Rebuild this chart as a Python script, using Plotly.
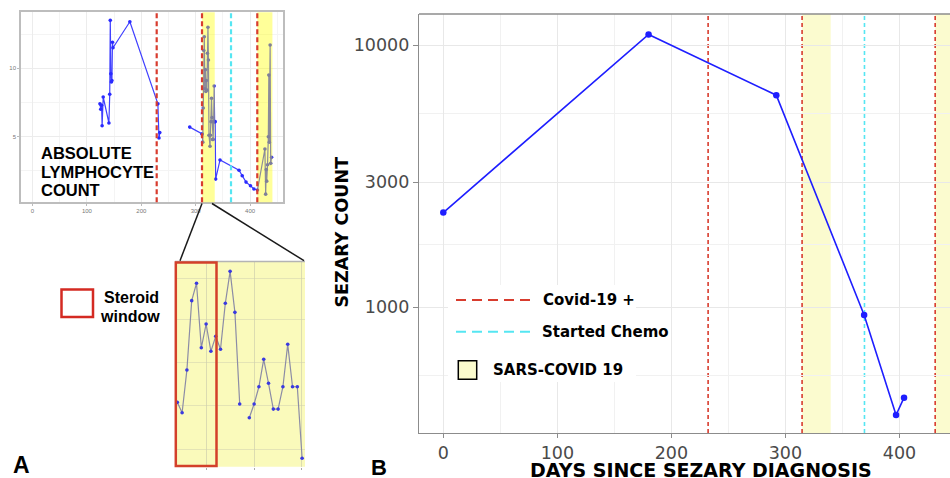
import plotly.graph_objects as go

W, H = 950, 478

# ---------------- Panel A: absolute lymphocyte count ----------------
alc_days_early = [124, 125.5, 127, 128, 130, 140.5, 142, 143, 144, 145, 146, 147, 148, 179, 230.5, 232.5, 234]
alc_vals_early = [7.4, 7.0, 7.3, 5.8, 7.9, 6.0, 8.1, 13.5, 9.6, 9.0, 9.1, 11.9, 11.5, 13.4, 7.4, 4.9, 5.3]

alc_days_late = [289, 311.6,
                 312.0, 313.0, 313.9, 314.9, 315.8, 316.8, 317.7, 318.7, 319.6, 320.6, 321.5, 322.5, 323.4, 324.4,
                 326.3, 327.2, 328.2, 329.1, 330.1, 331.0, 332.0, 332.9, 333.9, 334.8, 335.8, 336.7,
                 344.7, 379.6, 385.5, 392.5, 400.7, 407, 413.5,
                 427.2, 428.6, 429.6, 430.5, 432, 433.5, 434.4, 435.3, 436.8, 437.8, 439.5]
alc_vals_late = [5.7, 5.2,
                 5.2, 4.6, 7.1, 11.3, 12.3, 8.5, 9.9, 8.3, 9.1, 8.4, 11.1, 13.0, 10.6, 5.1,
                 4.3, 5.1, 6.1, 7.8, 6.4, 4.8, 4.8, 6.1, 8.7, 6.1, 6.1, 1.9,
                 3.3, 2.55, 2.15, 1.68, 1.41, 1.18, 1.1,
                 4.1, 0.8, 2.6, 1.75, 2.95, 5.0, 9.5, 4.6, 11.7, 3.05, 3.5]

covid_pos_days_a = [228.3, 311.6, 413.2]
chemo_day_a = 364.9
sars_windows_a = [(311.8, 335.0), (413.2, 441.0)]
a_xticks = [0, 100, 200, 300, 400]
a_yticks = [5, 10]

# ---------------- Zoomed inset (steroid window) ----------------
inset_idx = [0, 1, 2, 3, 4, 5, 6, 7, 8, 9, 10, 11, 12, 13, 14,
             15, 16, 17, 18, 19, 20, 21, 22, 23, 24, 25, 26]
inset_vals = [3.14, 2.63, 4.72, 8.10, 8.95, 5.80, 6.96, 5.63, 6.36, 5.73, 7.97, 9.53, 7.53, 3.06, None,
              2.39, 3.06, 3.90, 5.24, 4.07, 2.81, 2.81, 3.90, 5.97, 3.90, 3.90, 0.41]

# ---------------- Panel B: Sezary count ----------------
sezary_days = [0, 180, 292, 369, 397, 404]
sezary_counts = [2300, 11000, 6450, 935, 388, 452]
covid_pos_days_b = [232.2, 314.6, 431.3]
chemo_day_b = 369.3
sars_windows_b = [(314.6, 339.7), (431.3, 470.0)]
b_xticks = [0, 100, 200, 300, 400]
b_yticks = [1000, 3000, 10000]
b_yticklabels = ["1000", "3000", "10000"]


def px(x):
    return x / W


def py(y):
    return 1 - y / H


RED = "#d83c2e"
CYAN = "#55e6f2"
DJ = "DejaVu Sans"
AR = "Liberation Sans, Arial"

fig = go.Figure()

# Panel B trace
fig.add_trace(go.Scatter(x=sezary_days, y=sezary_counts, mode="lines+markers",
                         line=dict(color="#1e1eff", width=1.6),
                         marker=dict(size=6.5, color="#1e1eff"),
                         xaxis="x", yaxis="y", hoverinfo="skip"))

# Panel A traces
for dd, vv in [(alc_days_early, alc_vals_early), (alc_days_late, alc_vals_late)]:
    fig.add_trace(go.Scatter(x=dd, y=vv, mode="lines+markers",
                             line=dict(color="#4040ff", width=1.2),
                             marker=dict(size=3.6, color="#2a2aff"),
                             xaxis="x2", yaxis="y2", hoverinfo="skip"))

# Inset trace
fig.add_trace(go.Scatter(x=inset_idx, y=inset_vals, mode="lines+markers",
                         line=dict(color="#8c8ca6", width=1.2),
                         marker=dict(size=3.6, color="#3a3ae0"),
                         connectgaps=False,
                         xaxis="x3", yaxis="y3", hoverinfo="skip"))

shapes = []

# ----- Panel B shapes -----
for x0, x1 in sars_windows_b:
    shapes.append(dict(type="rect", xref="x", yref="y domain", x0=x0, x1=x1, y0=0, y1=1,
                       fillcolor="#fbfbcf", line=dict(width=0), layer="below"))
for d in covid_pos_days_b:
    shapes.append(dict(type="line", xref="x", yref="y domain", x0=d, x1=d, y0=0, y1=1,
                       line=dict(color=RED, width=1.6, dash="4px,3px"), layer="below"))
shapes.append(dict(type="line", xref="x", yref="y domain", x0=chemo_day_b, x1=chemo_day_b, y0=0, y1=1,
                   line=dict(color=CYAN, width=1.6, dash="4px,3px"), layer="below"))
# top border of panel B
shapes.append(dict(type="line", xref="paper", yref="paper", x0=px(419), x1=1.0, y0=py(14), y1=py(14),
                   line=dict(color="#8c8c8c", width=1.3), layer="above"))

# legend of panel B
shapes.append(dict(type="rect", xref="paper", yref="paper", x0=px(448), x1=px(636), y0=py(382), y1=py(285),
                   fillcolor="white", line=dict(width=0), layer="above"))
shapes.append(dict(type="line", xref="paper", yref="paper", x0=px(456), x1=px(531), y0=py(300), y1=py(300),
                   line=dict(color=RED, width=2, dash="10px,6px"), layer="above"))
shapes.append(dict(type="line", xref="paper", yref="paper", x0=px(456), x1=px(531), y0=py(331.7), y1=py(331.7),
                   line=dict(color=CYAN, width=2, dash="10px,6px"), layer="above"))
shapes.append(dict(type="rect", xref="paper", yref="paper", x0=px(458.3), x1=px(476.7), y0=py(379.3), y1=py(360.7),
                   fillcolor="#fbfbcd", line=dict(color="black", width=1.5), layer="above"))

# ----- Panel A shapes -----
for x0, x1 in sars_windows_a:
    shapes.append(dict(type="rect", xref="x2", yref="y2 domain", x0=x0, x1=x1, y0=0, y1=1,
                       fillcolor="#ffff00", opacity=0.4, line=dict(width=0), layer="above"))
for d in covid_pos_days_a:
    shapes.append(dict(type="line", xref="x2", yref="y2 domain", x0=d, x1=d, y0=0, y1=1,
                       line=dict(color=RED, width=2.2, dash="5px,3px"), layer="above"))
shapes.append(dict(type="line", xref="x2", yref="y2 domain", x0=chemo_day_a, x1=chemo_day_a, y0=0, y1=1,
                   line=dict(color=CYAN, width=2.2, dash="5px,3px"), layer="above"))

# ----- Inset shapes -----
shapes.append(dict(type="rect", xref="x3 domain", yref="y3 domain", x0=0, x1=1, y0=0, y1=1,
                   fillcolor="#fafabb", line=dict(width=0), layer="below"))
shapes.append(dict(type="line", xref="paper", yref="paper", x0=px(175), x1=px(305), y0=py(261.5), y1=py(261.5),
                   line=dict(color="#b4b4b4", width=1.5), layer="above"))
shapes.append(dict(type="rect", xref="paper", yref="paper", x0=px(175.8), x1=px(216.5), y0=py(466), y1=py(262.5),
                   fillcolor="rgba(0,0,0,0)", line=dict(color="#d3402a", width=2.5), layer="above"))
# connector lines
shapes.append(dict(type="line", xref="paper", yref="paper", x0=px(202), x1=px(180), y0=py(203.5), y1=py(260.7),
                   line=dict(color="#1a1a1a", width=1.5), layer="above"))
shapes.append(dict(type="line", xref="paper", yref="paper", x0=px(212), x1=px(304), y0=py(203.5), y1=py(260.7),
                   line=dict(color="#1a1a1a", width=1.5), layer="above"))
# steroid window legend square
shapes.append(dict(type="rect", xref="paper", yref="paper", x0=px(61.5), x1=px(93), y0=py(317), y1=py(289.5),
                   fillcolor="rgba(0,0,0,0)", line=dict(color="#d42a22", width=2.5), layer="above"))

annotations = []


def note(text, x, y, size, family, xanchor="center", angle=0, color="black"):
    annotations.append(dict(text=text, xref="paper", yref="paper", x=px(x), y=py(y),
                            xanchor=xanchor, yanchor="middle", showarrow=False, textangle=angle,
                            font=dict(family=family, size=size, color=color)))


note("<b>ABSOLUTE</b>", 39, 153, 16.5, AR, xanchor="left")
note("<b>LYMPHOCYTE</b>", 39, 172, 16.5, AR, xanchor="left")
note("<b>COUNT</b>", 39, 189.5, 16.5, AR, xanchor="left")
note("<b>Steroid</b>", 131, 297, 16, AR)
note("<b>window</b>", 130, 316, 16, AR)
note("<b>A</b>", 21, 465, 23, AR)
note("<b>B</b>", 379, 467.5, 22, AR)
note("<b>DAYS SINCE SEZARY DIAGNOSIS</b>", 701, 469.5, 19, DJ)
note("<b>SEZARY COUNT</b>", 341.5, 232, 17.5, DJ, angle=-90)
note("<b>Covid-19 +</b>", 541, 300, 15, DJ, xanchor="left")
note("<b>Started Chemo</b>", 540, 331.7, 15, DJ, xanchor="left")
note("<b>SARS-COVID 19</b>", 491, 370, 15, DJ, xanchor="left")

GRID = "#e8e8e8"
MINOR = "#f1f1f1"

fig.update_layout(
    width=W, height=H, margin=dict(l=0, r=0, t=0, b=0),
    paper_bgcolor="white", plot_bgcolor="white", showlegend=False,
    shapes=shapes, annotations=annotations,
    xaxis=dict(domain=[px(419), 1.0], anchor="y", range=[-21.3, 444.3],
               tickmode="array", tickvals=b_xticks, showgrid=True, gridcolor=GRID, gridwidth=1.1,
               minor=dict(tickmode="array", tickvals=[50, 150, 250, 350], showgrid=True,
                          gridcolor=MINOR, gridwidth=0.8),
               showline=True, linecolor="#8c8c8c", linewidth=1.3, ticks="outside", ticklen=4,
               tickcolor="#8c8c8c", tickfont=dict(family=DJ, size=17.5, color="#4a4a4a"),
               zeroline=False, fixedrange=True),
    yaxis=dict(domain=[py(433), py(14)], anchor="x", type="log", range=[2.5202, 4.1195],
               tickmode="array", tickvals=b_yticks, ticktext=b_yticklabels,
               showgrid=True, gridcolor=GRID, gridwidth=1.1,
               minor=dict(tickmode="array", tickvals=[548, 1732, 5477], showgrid=True,
                          gridcolor=MINOR, gridwidth=0.8),
               showline=True, linecolor="#8c8c8c", linewidth=1.3, ticks="outside", ticklen=5,
               tickcolor="#8c8c8c", tickfont=dict(family=DJ, size=17.5, color="#4a4a4a"),
               zeroline=False, fixedrange=True),
    xaxis2=dict(domain=[px(21), px(283.3)], anchor="y2", range=[-21.1, 461],
                tickmode="array", tickvals=a_xticks, showgrid=True, gridcolor="#ececec", gridwidth=0.8,
                minor=dict(tickmode="array", tickvals=[50, 150, 250, 350, 450], showgrid=True,
                           gridcolor="#f4f4f4", gridwidth=0.6),
                showline=True, mirror=True, linecolor="#bdbdbd", linewidth=1.6,
                ticks="outside", ticklen=2, tickcolor="#bbbbbb",
                tickfont=dict(family=AR, size=6, color="#777777"), zeroline=False, fixedrange=True),
    yaxis2=dict(domain=[py(202.3), py(12.3)], anchor="x2", range=[0.205, 14.09],
                tickmode="array", tickvals=a_yticks, showgrid=True, gridcolor="#ececec", gridwidth=0.8,
                minor=dict(tickmode="array", tickvals=[2.5, 7.5, 12.5], showgrid=True,
                           gridcolor="#f4f4f4", gridwidth=0.6),
                showline=True, mirror=True, linecolor="#bdbdbd", linewidth=1.6,
                ticks="outside", ticklen=2, tickcolor="#bbbbbb",
                tickfont=dict(family=AR, size=6, color="#777777"), zeroline=False, fixedrange=True),
    xaxis3=dict(domain=[px(175), px(305)], anchor="y3", range=[-0.48, 26.6],
                tickmode="array", tickvals=[6.1, 16.0, 25.9], showticklabels=False,
                showgrid=True, gridcolor="rgba(200,200,170,0.6)", gridwidth=0.8,
                ticks="outside", ticklen=2, tickcolor="#aaaaaa",
                showline=False, zeroline=False, fixedrange=True),
    yaxis3=dict(domain=[py(466.7), py(261.7)], anchor="x3", range=[0, 10],
                tickmode="array", tickvals=[0.86, 3.0, 5.1, 7.16, 9.2], showticklabels=False,
                showgrid=True, gridcolor="rgba(205,205,175,0.5)", gridwidth=0.7,
                showline=False, zeroline=False, fixedrange=True),
)

fig.write_html("out.html", config={"displayModeBar": False},
               post_script="document.body.style.margin='0px';document.body.style.padding='0px';")
